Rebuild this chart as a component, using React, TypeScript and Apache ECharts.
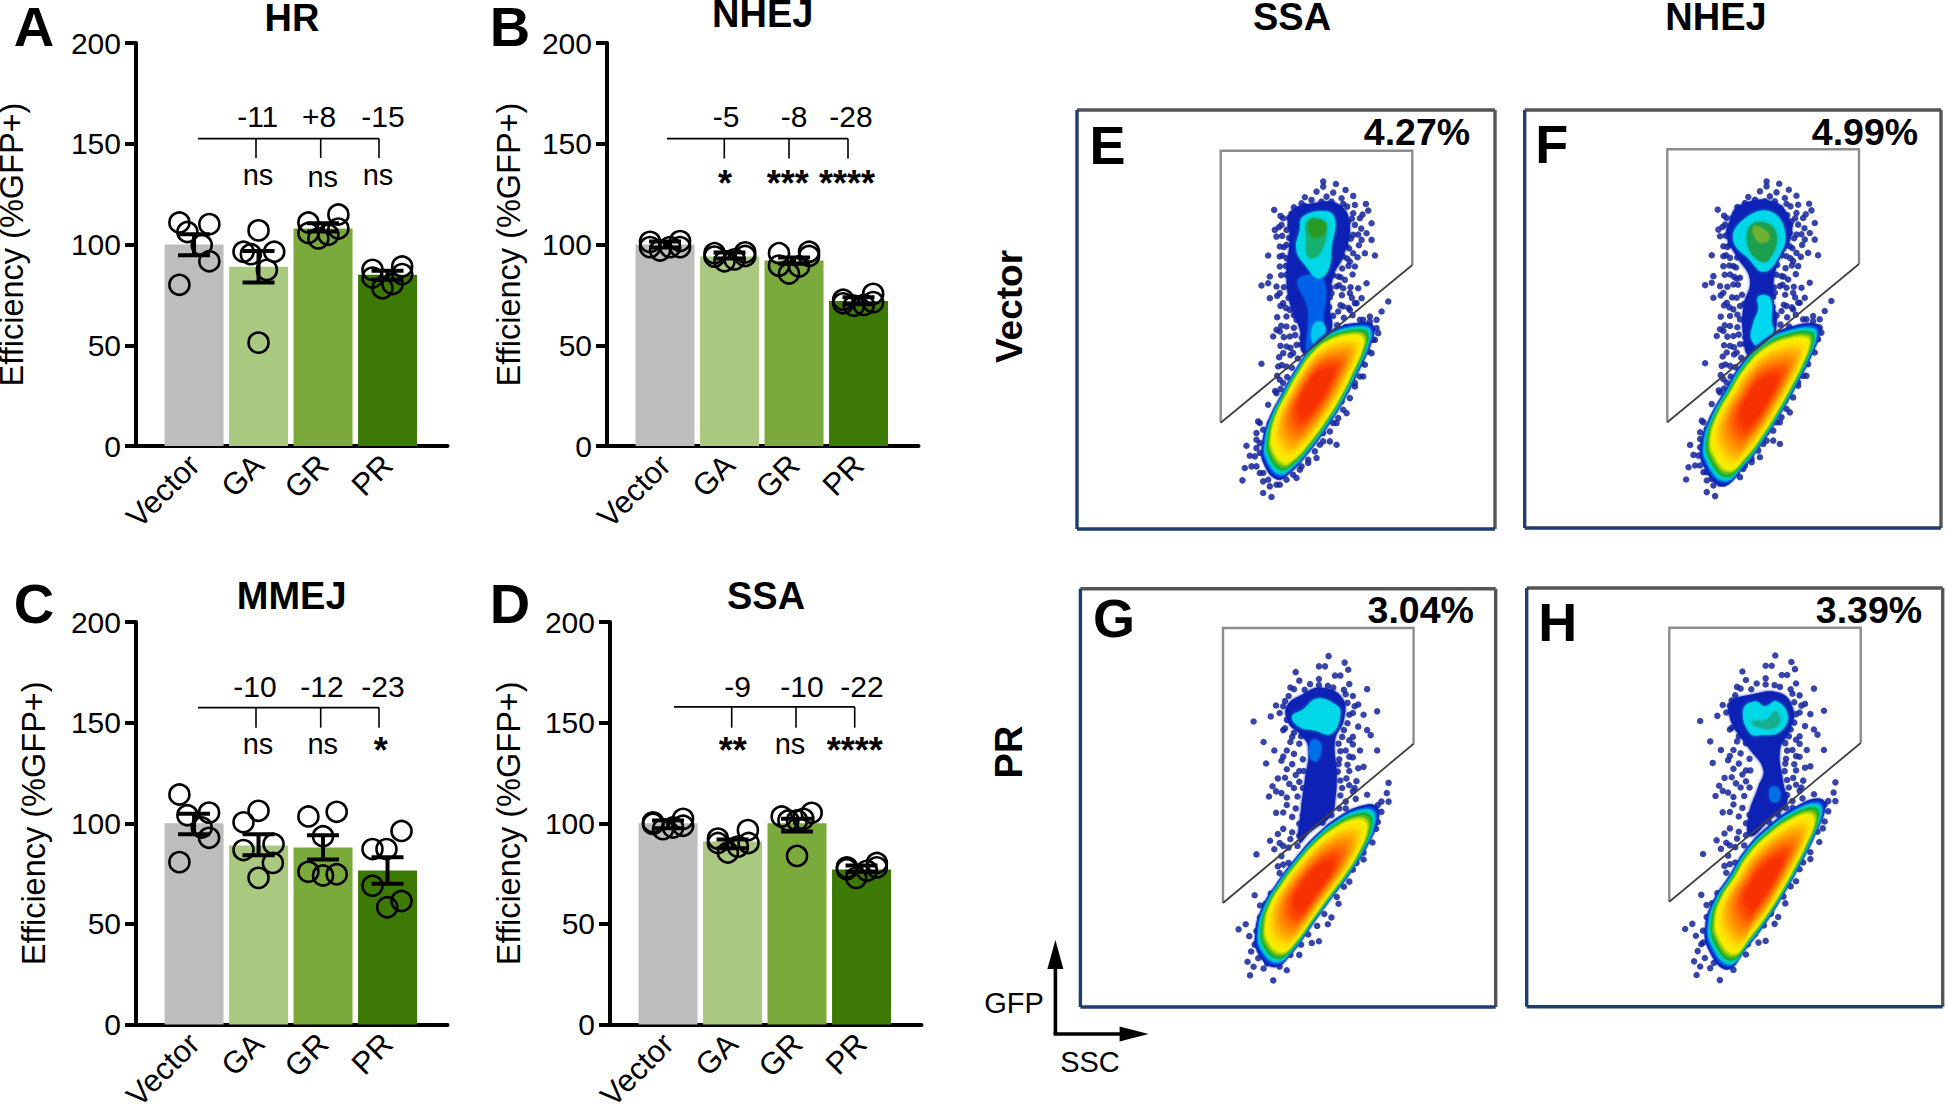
import React, { useEffect, useRef } from "react";
import * as echarts from "echarts";

const FONT = '"Liberation Sans", Arial, sans-serif';
const categories = ["Vector", "GA", "GR", "PR"];
const barColors = ["#bdbdbd", "#a8c97f", "#7aa93c", "#3d7a05"];
const yTicks = [0, 50, 100, 150, 200];

const hrMeans = [100, 89, 108, 85];
const nhejMeans = [100, 94, 92, 72];
const mmejMeans = [100, 89, 88, 76.5];
const ssaMeans = [100, 91, 100, 77];

const hrSem = [[105.1, 94.7], [96.8, 81.1], [110.5, 106.5], [87, 82.5]];
const nhejSem = [[101.5, 98.5], [96, 93], [93.5, 90.5], [73.8, 70.3]];
const mmejSem = [[104.8, 94.5], [94.5, 84.1], [94.1, 82], [83.1, 70]];
const ssaSem = [[101.4, 97.6], [91.9, 87.6], [102.2, 95.9], [79, 75.9]];

const hrDots = [
  [[-0.227, 110.9], [-0.103, 106.2], [0.237, 110.1], [0.119, 99.7], [0.237, 91.7], [-0.227, 80]],
  [[0, 107], [-0.233, 96.4], [0.243, 96.4], [-0.119, 95.2], [0.129, 87.4], [0, 51.3]],
  [[-0.227, 110.9], [0.238, 114.9], [0.238, 107.9], [-0.227, 105.7], [-0.072, 103], [0.083, 104.8]],
  [[-0.233, 87.4], [0.227, 89.1], [0.227, 85.3], [-0.233, 83.6], [-0.078, 78.3], [0.078, 80.4]],
];
const nhejDots = [
  [[-0.233, 101.3], [0.233, 101.7], [0.233, 98.7], [-0.233, 98.7], [-0.078, 97], [0.078, 98.7]],
  [[-0.233, 95.7], [0.243, 96.1], [0.243, 94.3], [-0.233, 94], [-0.078, 91.7], [0.078, 92.6]],
  [[-0.233, 95.7], [0.233, 96.4], [0.233, 94.3], [-0.233, 89.5], [-0.078, 85.6], [0.078, 89.1]],
  [[-0.238, 72.6], [0.227, 75.5], [0.227, 71.4], [-0.238, 70.8], [-0.072, 69.6], [0.083, 70]],
];
const mmejDots = [
  [[-0.227, 114.3], [-0.103, 104], [0.233, 105.3], [0.119, 97.9], [0.233, 92.8], [-0.227, 80.7]],
  [[0, 106.2], [-0.233, 100.5], [0.233, 89.7], [-0.233, 86.7], [0.222, 80.3], [0, 72.9]],
  [[-0.227, 103.4], [0.212, 105.7], [0, 93.6], [-0.227, 75.9], [0, 74.1], [0.212, 74.7]],
  [[-0.233, 87.2], [0.217, 96.2], [-0.016, 87.2], [-0.233, 69], [0.217, 61.4], [-0.005, 58.3]],
];
const ssaDots = [
  [[-0.233, 100.5], [0.233, 102.2], [0.233, 98.8], [-0.233, 99.7], [-0.078, 97.1], [0.078, 97.9]],
  [[-0.227, 92.4], [0.238, 96.6], [0.248, 90.2], [-0.227, 90.2], [-0.072, 85.5], [0.083, 88.4]],
  [[-0.238, 103.4], [0.227, 105.2], [0.098, 102.2], [-0.134, 101.4], [0, 101.4], [0, 83.8]],
  [[-0.227, 78.1], [0.238, 80.3], [0.238, 78.1], [-0.227, 77.2], [-0.083, 72.9], [0.083, 76.4]],
];

// Speckle clouds of the flow plots (crop pixel units).
const vectorCloud = [
  [790,275],[790,290],[828,282],[857,300],[735,322],[770,305],[800,320],[820,308],[845,325],[880,318],[725,340],[755,330],[785,335],[815,335],[850,342],[885,345],[918,342],[925,362],[643,360],[695,372],[670,385],[880,370],[900,385],[865,395],[885,405],[935,400],[645,420],[665,405],[680,420],[650,440],[920,430],[905,450],[935,450],[860,430],[880,435],[915,490],[945,497],[625,497],[660,470],[680,465],[695,445],[660,500],[680,505],[860,470],[880,490],[870,515],[885,530],[850,500],[660,530],[690,530],[680,555],[630,560],[605,587],[625,580],[650,590],[660,610],[700,568],[710,565],[690,585],[835,560],[855,570],[830,590],[815,610],[850,595],[920,580],[895,595],[870,610],[885,640],[630,625],[670,640],[700,625],[690,660],[680,680],[710,650],[710,690],[850,650],[835,665],[870,660],[890,640],[905,625],[985,635],[965,665],[640,740],[660,725],[680,710],[690,740],[710,765],[680,770],[670,790],[700,790],[650,720],[950,690],[930,680],[910,690],[955,730],[940,750],[925,785],[905,820],[910,860],[885,880],[860,900],[845,935],[860,970],[835,985],[605,822],[655,830],[680,830],[660,870],[650,910],[625,945],[670,880],[595,995],[630,1000],[610,1020],[590,1050],[560,1068],[590,1075],[570,1098],[600,1090],[575,1130],[555,1135],[548,1172],[600,1150],[610,1175],[630,1190],[610,1210],[635,1222],[660,1185],[710,1165],[725,1130],[770,1105],[745,1120],[780,1065],[810,1055],[830,1065],[790,1030],[820,1000],
  [702,352],[733,348],[772,352],[803,347],[832,356],[862,350],[662,378],[688,384],[852,376],[876,386],[908,374],[657,412],[692,406],[846,414],[861,406],[904,416],[667,438],[688,444],[852,442],[873,446],[895,434],[672,472],[697,468],[846,468],[868,476],[897,466],[668,497],[702,504],[836,498],[862,506],[893,502],[678,528],[698,534],[822,526],[847,536],[866,528],[664,556],[692,562],[820,556],[842,562],[878,554],[672,592],[704,586],[812,594],[838,586],[872,592],[652,618],[686,624],[716,616],[810,622],[846,616],[876,624],[662,648],[678,654],[722,644],[808,652],[842,646],[866,654],[652,682],[702,676],[726,686],[820,678],[852,684],[878,676],[664,708],[702,714],[726,704],[832,706],[858,712],[672,742],[706,736],[726,744],[662,768],[692,774],[724,764],[658,802],[692,796],[714,806],[666,826],[696,834],[652,858],[682,862],[662,898],[646,904],
  [600,1000],[590,1030],[600,1060],[585,1100],[590,1130],[610,1150],[625,1170],[650,1185],[680,1170],[700,1155],[720,1140],[745,1110],[765,1085],[790,1055],[810,1025],[830,1000],[850,960],[870,925],[885,890],[900,860],[915,825],[935,790],[945,750],[950,715],[930,695],[900,690],
];
const prCloud = [
  [1032,253],[1077,272],[1005,283],[1022,283],[1087,293],[940,300],[1050,310],[1065,310],[1005,320],[950,325],[980,335],[1030,340],[1090,335],[1140,350],[935,350],[920,370],[1080,365],[1100,370],[1115,395],[885,398],[870,430],[822,445],[905,400],[1168,415],[1130,425],[1100,420],[1085,450],[1115,460],[1140,470],[1100,490],[1150,485],[1090,500],[850,505],[880,530],[905,470],[930,490],[950,510],[915,530],[1060,510],[1080,530],[1120,530],[1168,530],[1100,550],[857,568],[900,560],[930,570],[950,590],[1130,578],[1090,590],[1060,570],[1110,620],[1040,610],[910,610],[935,640],[875,635],[865,665],[900,655],[960,640],[1000,640],[1070,640],[1100,650],[1140,660],[885,713],[915,690],[940,700],[960,720],[985,745],[1040,680],[1080,700],[1200,625],[1195,655],[1180,680],[1180,710],[905,760],[930,770],[950,780],[890,775],[868,795],[905,810],[830,835],[900,840],[920,860],[895,890],[825,955],[840,985],[780,1055],[800,1040],[810,1075],[830,1095],[815,1120],[805,1150],[822,1165],[850,1170],[812,1190],[877,1205],[915,1175],[950,1130],[985,1095],[1005,1090],[1040,1020],[1030,1040],[1060,980],[1090,915],[1100,880],[1130,850],[1150,770],[1170,740],
  [925,345],[965,352],[1005,338],[1045,345],[1075,352],[910,385],[1085,390],[1105,400],[895,420],[915,440],[1090,425],[1075,470],[910,465],[935,478],[1070,490],[1100,512],[925,505],[955,488],[1065,532],[1090,548],[905,548],[935,540],[960,556],[1062,556],[1085,572],[1115,582],[915,585],[940,602],[962,590],[1058,592],[1082,612],[1105,640],[890,612],[922,628],[950,622],[1065,618],[1090,632],[885,650],[915,668],[945,665],[1065,662],[1080,680],[1108,672],[905,712],[930,725],[950,745],[1062,700],[1040,720],[1015,742],[925,790],[895,802],[920,815],[880,820],[945,810],[905,865],[890,870],[1200,680],[1170,690],[1165,760],[1155,800],[1130,830],[1110,860],[1075,930],[1055,960],[1020,1010],[1000,1045],[975,1070],[955,1100],[925,1130],[895,1165],[860,1155],[835,1140],[825,1100],[830,1060],[840,1020],[855,980],[870,950],
];

// Density outlines of the flow plots (crop pixel units).
const mainOutlineE = [[655,1160],[615,1110],[612,1060],[630,990],[670,910],[710,840],[760,770],[820,725],[900,705],[935,715],[930,760],[895,840],[850,930],[800,1010],[745,1085],[695,1140]];
const mainOutlineF = [[640,1180],[585,1120],[578,1060],[600,990],[650,900],[700,820],[770,750],[850,715],[915,710],[925,730],[900,800],[860,880],[810,970],[760,1050],[700,1130]];
const mainOutlineG = [[885,1158],[840,1120],[832,1060],[850,990],[890,920],[940,850],[1000,780],[1060,730],[1120,700],[1160,702],[1165,740],[1135,815],[1090,890],[1040,960],[985,1040],[930,1120]];
const mainOutlineH = [[655,1190],[600,1130],[592,1060],[615,990],[660,920],[710,840],[780,770],[860,715],[925,695],[940,720],[910,800],[870,880],[820,970],[770,1050],[710,1130]];

const headE = [
  { fill: "#0a22b4", pts: [[690,370],[760,340],[840,345],[870,410],[850,500],[820,560],[810,650],[815,720],[780,760],[730,790],[720,720],[690,640],[680,550],[690,450]] },
  { fill: "#0060e8", pts: [[715,570],[790,570],[790,720],[800,740],[745,790],[745,660]] },
  { fill: "#00d8e8", pts: [[730,380],[800,365],[825,390],[815,470],[805,540],[775,565],[740,530],[710,480],[720,420]] },
  { fill: "#18b070", pts: [[745,390],[795,395],[800,430],[790,470],[770,500],[745,500],[740,450]] },
  { fill: "#2c9a28", pts: [[750,395],[790,395],[795,425],[770,445],[750,430]] },
  { fill: "#00c8f0", pts: [[765,700],[790,700],[795,740],[770,770],[755,745]] },
];
const headF = [
  { fill: "#0a22b4", pts: [[690,345],[790,335],[840,390],[840,450],[800,530],[790,620],[800,700],[780,760],[720,800],[700,740],[700,650],[720,570],[680,500],[650,440],[660,390]] },
  { fill: "#00d8e8", pts: [[700,390],[780,365],[825,430],[800,510],[760,545],[720,510],[670,450]] },
  { fill: "#1aa050", pts: [[720,410],[770,400],[800,440],[775,510],[745,510],[715,470]] },
  { fill: "#70b030", pts: [[730,410],[770,425],[775,450],[745,455]] },
  { fill: "#00d8f0", pts: [[745,620],[780,625],[785,700],[790,725],[755,770],[725,750],[730,700],[745,660]] },
];
const headG = [
  { fill: "#0a22b4", pts: [[915,400],[960,365],[1010,345],[1070,375],[1075,440],[1050,500],[1055,600],[1050,680],[1040,720],[980,770],[950,800],[955,700],[965,620],[975,520],[950,480],[920,450]] },
  { fill: "#00d8e8", pts: [[930,430],[960,410],[1000,378],[1050,395],[1065,420],[1040,480],[990,470],[950,460]] },
  { fill: "#0070e8", pts: [[985,500],[1010,510],[1000,560],[980,550]] },
];
const headH = [
  { fill: "#0a22b4", pts: [[660,400],[720,375],[810,370],[850,420],[840,480],[810,540],[820,640],[830,700],[780,750],[720,800],[715,740],[745,650],[760,600],[720,540],[690,500],[665,460]] },
  { fill: "#00d8e8", pts: [[700,420],[735,395],[765,410],[800,395],[833,440],[810,485],[760,495],[720,490]] },
  { fill: "#18b090", pts: [[725,455],[770,450],[795,425],[810,450],[790,475],[740,470]] },
  { fill: "#0070e8", pts: [[780,655],[805,655],[808,690],[785,695]] },
];

const densityStops: [number, string][] = [[1.035, "#0a22b4"], [1, "#0050e0"], [0.975, "#00b8e8"], [0.95, "#00d8a8"], [0.925, "#10a838"], [0.9, "#50b820"], [0.87, "#b0d800"], [0.84, "#f4f000"], [0.76, "#ffe000"], [0.66, "#ffb000"], [0.54, "#ff8000"], [0.42, "#ff5000"], [0.3, "#f53000"]];
const densityLayers: [number, string][] = densityStops.flatMap((st, i) => {
  const nx = densityStops[i + 1];
  if (!nx) return [st];
  const steps = i < 7 ? 1 : 4;
  const out: [number, string][] = [];
  for (let k = 0; k < steps; k++) {
    const t = k / steps;
    out.push([st[0] + (nx[0] - st[0]) * t, echarts.color.lerp(t, [st[1], nx[1]]) as string]);
  }
  return out;
});

const charts = [
  { title: "HR", letter: "A", x: 136, top: 43, bottom: 446, means: hrMeans, sem: hrSem, dots: hrDots, nameGap: 108, titleX: 292, titleY: 18, letterX: 34, letterY: 26,
    br: { y: 138.6, x1: 198, x2: 379, ticks: [256, 320.7, 379], low: 158 },
    deltas: [["-11", 257.7], ["+8", 319], ["-15", 383]], deltaY: 116.5,
    sig: [["ns", 258, 175], ["ns", 322.7, 177], ["ns", 378, 175]] },
  { title: "NHEJ", letter: "B", x: 607, top: 43, bottom: 446, means: nhejMeans, sem: nhejSem, dots: nhejDots, nameGap: 82, titleX: 762.7, titleY: 14, letterX: 510, letterY: 26,
    br: { y: 138.6, x1: 667, x2: 848, ticks: [724.3, 789, 848], low: 158.6 },
    deltas: [["-5", 726], ["-8", 794], ["-28", 851]], deltaY: 116.5,
    sig: [["*", 725, 183], ["***", 787.7, 183], ["****", 847, 183]] },
  { title: "MMEJ", letter: "C", x: 136, top: 622, bottom: 1024.6, means: mmejMeans, sem: mmejSem, dots: mmejDots, nameGap: 86, titleX: 291.7, titleY: 596, letterX: 34, letterY: 603.4,
    br: { y: 707.6, x1: 198, x2: 379, ticks: [256, 320.7, 379], low: 727.7 },
    deltas: [["-10", 255], ["-12", 322], ["-23", 383]], deltaY: 686.7,
    sig: [["ns", 258, 744], ["ns", 322.7, 744], ["*", 380.7, 750.5]] },
  { title: "SSA", letter: "D", x: 610, top: 622, bottom: 1024.6, means: ssaMeans, sem: ssaSem, dots: ssaDots, nameGap: 85, titleX: 766, titleY: 596, letterX: 510, letterY: 603.4,
    br: { y: 706.9, x1: 674, x2: 854.7, ticks: [731.7, 796, 854.7], low: 727.7 },
    deltas: [["-9", 737.7], ["-10", 802], ["-22", 862]], deltaY: 686.7,
    sig: [["**", 732.7, 750.5], ["ns", 790, 744], ["****", 854.7, 750.5]] },
];

const flows = [
  { letter: "E", pct: "4.27%", f: [1077, 110, 1495, 529], crop: [52, 1305, 60, 1318], gate: [1220.7, 150.7, 1412.3, 265, 422.7], lx: 1107.5, ly: 145, px: 1417, py: 131.7,
    outline: mainOutlineE, c: [765, 900], head: headE, cloud: vectorCloud, cloudCrop: [52, 1305, 60, 1318] },
  { letter: "F", pct: "4.99%", f: [1524.7, 110, 1941, 528], crop: [44, 1293, 60, 1315], gate: [1667.3, 149.3, 1859, 264, 422.3], lx: 1551.7, ly: 144.3, px: 1865, py: 131.7,
    outline: mainOutlineF, c: [745, 930], head: headF, cloud: vectorCloud, cloudCrop: [62, 1315, 60, 1318] },
  { letter: "G", pct: "3.04%", f: [1080.4, 588.7, 1495.7, 1007], crop: [337, 1500, 55, 1283], gate: [1223, 628, 1413.6, 743.7, 903], lx: 1114, ly: 617.7, px: 1420.7, py: 610,
    outline: mainOutlineG, c: [985, 930], head: headG, cloud: prCloud, cloudCrop: [337, 1500, 55, 1283] },
  { letter: "H", pct: "3.39%", f: [1526.7, 588, 1942.7, 1006.7], crop: [50, 1298, 55, 1310], gate: [1669.3, 627.7, 1860.7, 743, 901.7], lx: 1557.7, ly: 622.3, px: 1869, py: 610,
    outline: mainOutlineH, c: [760, 940], head: headH, cloud: prCloud, cloudCrop: [337, 1500, 55, 1283] },
];

const norm = (p: number[], crop: number[]) => [(p[0] - crop[0]) / (crop[1] - crop[0]), (p[1] - crop[2]) / (crop[3] - crop[2])];

function buildOption() {
  const grid: any[] = [];
  const xAxis: any[] = [];
  const yAxis: any[] = [];
  const series: any[] = [];
  const g: any[] = [];

  const text = (t: string, x: number, y: number, size: number, weight = "normal", rotation = 0) =>
    g.push({
      type: "text", x, y, rotation, z: 30,
      style: { text: t, fontSize: size, fontWeight: weight, fontFamily: FONT, fill: "#000", align: "center", verticalAlign: "middle", textAlign: "center", textVerticalAlign: "middle" },
    });
  const line = (x1: number, y1: number, x2: number, y2: number, stroke = "#000", lineWidth = 1.6) =>
    g.push({ type: "line", z: 25, shape: { x1, y1, x2, y2 }, style: { stroke, lineWidth } });

  charts.forEach((c, i) => {
    grid.push({ left: c.x, top: c.top, width: 311.5, height: c.bottom - c.top, outerBoundsMode: "none", containLabel: false });
    xAxis.push({
      type: "value", gridIndex: i, min: -0.9, max: 3.93, splitLine: { show: false },
      axisLine: { show: true, onZero: false, lineStyle: { color: "#000", width: 4 } },
      axisTick: { show: false },
      axisLabel: { customValues: [0, 1, 2, 3], formatter: (v: number) => categories[v], rotate: 45, fontSize: 31, fontFamily: FONT, color: "#000", margin: 14 },
    });
    yAxis.push({
      type: "value", gridIndex: i, min: 0, max: 200, interval: 50, splitLine: { show: false },
      name: "Efficiency (%GFP+)", nameLocation: "middle", nameGap: c.nameGap,
      nameTextStyle: { fontSize: 32.5, fontFamily: FONT, color: "#000" },
      axisLine: { show: true, onZero: false, lineStyle: { color: "#000", width: 4 } },
      axisTick: { show: true, length: 11, lineStyle: { color: "#000", width: 4 } },
      axisLabel: { customValues: yTicks, fontSize: 30, fontFamily: FONT, color: "#000", margin: 15 },
    });
    series.push({
      type: "bar", xAxisIndex: i, yAxisIndex: i, barWidth: 59, z: 2,
      data: c.means.map((v, k) => ({ value: [k, v], itemStyle: { color: barColors[k] } })),
    });
    series.push({
      type: "custom", xAxisIndex: i, yAxisIndex: i, z: 3,
      data: c.sem.map((s, k) => [k, s[0], s[1]]),
      renderItem: (_: any, api: any) => {
        const hi = api.coord([api.value(0), api.value(1)]);
        const lo = api.coord([api.value(0), api.value(2)]);
        const st = { stroke: "#000", lineWidth: 4 };
        return {
          type: "group",
          children: [
            { type: "line", shape: { x1: hi[0], y1: hi[1], x2: lo[0], y2: lo[1] }, style: st },
            { type: "line", shape: { x1: hi[0] - 16, y1: hi[1], x2: hi[0] + 16, y2: hi[1] }, style: st },
            { type: "line", shape: { x1: lo[0] - 16, y1: lo[1], x2: lo[0] + 16, y2: lo[1] }, style: st },
          ],
        };
      },
    });
    series.push({
      type: "scatter", xAxisIndex: i, yAxisIndex: i, z: 4, symbolSize: 20,
      itemStyle: { color: "rgba(0,0,0,0)", borderColor: "#000", borderWidth: 2.6, opacity: 1 },
      data: c.dots.flatMap((group, k) => group.map((d) => [k + d[0], d[1]])),
    });

    text(c.title, c.titleX, c.titleY, 38, "bold");
    text(c.letter, c.letterX, c.letterY, 56, "bold");
    line(c.br.x1, c.br.y, c.br.x2, c.br.y);
    c.br.ticks.forEach((t) => line(t, c.br.y, t, c.br.low));
    c.deltas.forEach((d: any) => text(d[0], d[1], c.deltaY, 30));
    c.sig.forEach((s: any) => text(s[0], s[1], s[2], s[0] === "ns" ? 29 : 36, s[0] === "ns" ? "normal" : "bold"));
  });

  flows.forEach((p, j) => {
    const idx = j + 4;
    const [x0, y0, x1, y1] = p.f;
    grid.push({ left: x0, top: y0, width: x1 - x0, height: y1 - y0, outerBoundsMode: "none", containLabel: false });
    xAxis.push({ type: "value", gridIndex: idx, min: 0, max: 1, show: false, splitLine: { show: false } });
    yAxis.push({ type: "value", gridIndex: idx, min: 0, max: 1, inverse: true, show: false, splitLine: { show: false } });
    series.push({
      type: "scatter", xAxisIndex: idx, yAxisIndex: idx, z: 1, symbolSize: 6.5, silent: true,
      itemStyle: { color: "#14249c", opacity: 0.85 },
      data: p.cloud.map((q) => norm(q, p.cloudCrop)),
    });
    const layers: { fill: string; pts: number[][]; blur: number }[] = [
      ...p.head.map((h) => ({ fill: h.fill, pts: h.pts.map((q) => norm(q, p.crop)), blur: 3 })),
      ...densityLayers.map(([s, fill]) => ({
        fill,
        blur: 2,
        pts: p.outline.map((q) => norm([p.c[0] + (q[0] - p.c[0]) * s, p.c[1] + (q[1] - p.c[1]) * s], p.crop)),
      })),
    ];
    series.push({
      type: "custom", xAxisIndex: idx, yAxisIndex: idx, z: 2, clip: false, silent: true,
      data: layers.map(() => [0, 0]),
      renderItem: (params: any, api: any) => {
        const l = layers[params.dataIndex];
        return {
          type: "polygon",
          shape: { points: l.pts.map((q) => api.coord(q)), smooth: 0.45 },
          style: { fill: l.fill, shadowBlur: l.blur, shadowColor: l.fill },
        };
      },
    });

    line(x0, y0, x1, y0, "#555", 3.4);
    line(x1, y0, x1, y1, "#555", 3.4);
    line(x0, y0, x0, y1, "#1f3d70", 3.4);
    line(x0, y1, x1, y1, "#1f3d70", 3.4);
    const [gl, gt, gr, grb, glb] = p.gate;
    g.push({ type: "polyline", z: 25, shape: { points: [[gl, glb], [gl, gt], [gr, gt], [gr, grb]] }, style: { stroke: "#8c8c8c", lineWidth: 2.4, fill: "none" } });
    line(gr, grb, gl, glb, "#404040", 1.8);
    text(p.letter, p.lx, p.ly, 54, "bold");
    text(p.pct, p.px, p.py, 37.5, "bold");
  });

  text("SSA", 1292, 17, 38, "bold");
  text("NHEJ", 1716, 17, 38, "bold");
  text("Vector", 1009, 306.5, 37, "bold", Math.PI / 2);
  text("PR", 1009, 752, 38, "bold", Math.PI / 2);
  text("GFP", 1014, 1003, 29);
  text("SSC", 1090, 1062, 29);
  line(1055.4, 965, 1055.4, 1034, "#000", 3.6);
  line(1053.6, 1034, 1122, 1034, "#000", 3.6);
  g.push({ type: "polygon", z: 25, shape: { points: [[1055.4, 940], [1047.4, 969], [1063.4, 969]] }, style: { fill: "#000" } });
  g.push({ type: "polygon", z: 25, shape: { points: [[1148.6, 1034], [1119.6, 1026.4], [1119.6, 1041.6]] }, style: { fill: "#000" } });

  return { animation: false, backgroundColor: "#fff", grid, xAxis, yAxis, series, graphic: { elements: g } };
}

export default function App() {
  const ref = useRef<HTMLDivElement>(null);
  useEffect(() => {
    const chart = echarts.init(ref.current!, undefined, { renderer: "svg" });
    chart.setOption(buildOption() as any);
    return () => chart.dispose();
  }, []);
  return <div ref={ref} style={{ position: "absolute", left: 0, top: 0, width: 1946, height: 1104 }} />;
}
